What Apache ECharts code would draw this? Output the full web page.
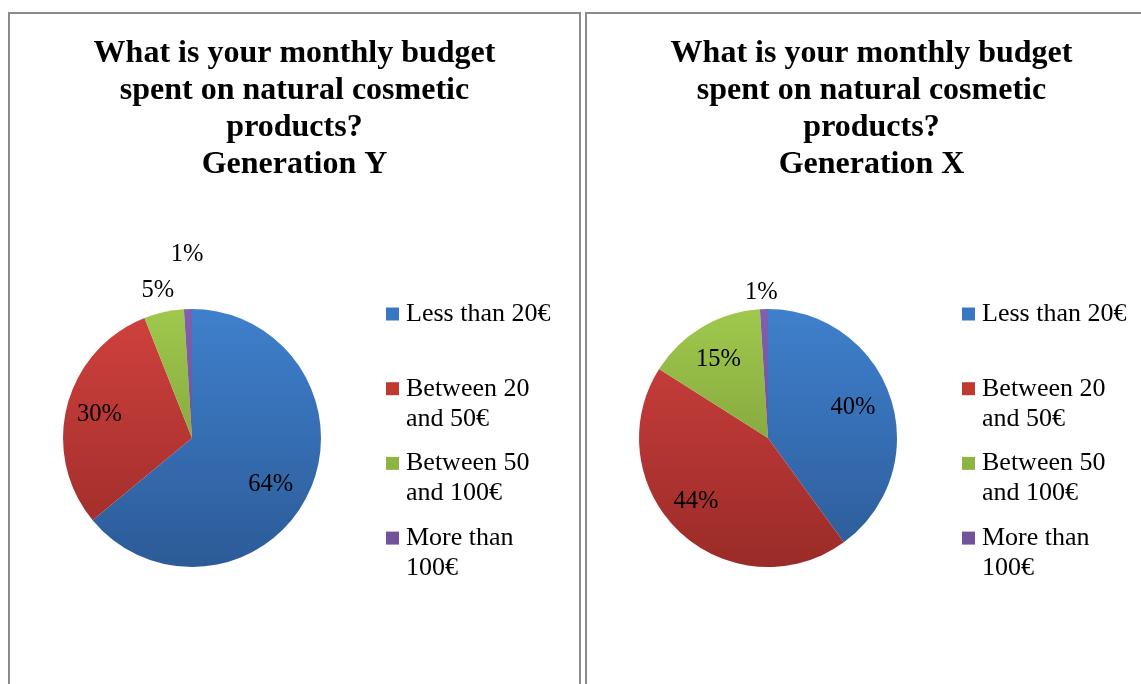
<!DOCTYPE html>
<html>
<head>
<meta charset="utf-8">
<title>Monthly budget spent on natural cosmetic products</title>
<script src="https://cdn.jsdelivr.net/npm/echarts@6/dist/echarts.min.js"></script>
<style>
  html, body { margin: 0; padding: 0; background: #fff; overflow: hidden; width: 1141px; height: 684px; }
  .panel { position: absolute; top: 12px; width: 573px; height: 700px; border: 2px solid #8c8c8c; box-sizing: border-box; background: #fff; }
  .chart { width: 569px; height: 696px; }
</style>
</head>
<body>
<div class="panel" style="left:8px"><div id="chartY" class="chart"></div></div>
<div class="panel" style="left:585px"><div id="chartX" class="chart"></div></div>
<script>
// Answer categories (series names and legend entries)
const categories = ['Less than 20€', 'Between 20 and 50€', 'Between 50 and 100€', 'More than 100€'];
// Legend wording as it wraps in the legend box
const legendLines = [['Less than 20€'], ['Between 20', 'and 50€'], ['Between 50', 'and 100€'], ['More than', '100€']];
// Share of respondents, in percent
const genY = [64, 30, 5, 1];
const genX = [40, 44, 15, 1];
const titleY = 'What is your monthly budget\nspent on natural cosmetic\nproducts?\nGeneration Y';
const titleX = 'What is your monthly budget\nspent on natural cosmetic\nproducts?\nGeneration X';

const FONT = "'Liberation Serif', 'Times New Roman', serif";
const R = 129;
// top / bottom gradient stops for each slice colour
const shades = [
  ['#3f80cd', '#2c5b97'],
  ['#d0413e', '#9a2b28'],
  ['#a0c84d', '#6f8f33'],
  ['#8160ad', '#5a4380']
];
const legendColors = ['#3a77c2', '#c0392f', '#8fb443', '#72529b'];

// legend text is padded to three lines so the marker sits beside the first line
function legendLabel(name) {
  const lines = legendLines[categories.indexOf(name)];
  return lines.length === 1 ? '\n' + lines[0] + '\n' : '\n' + lines.join('\n');
}

function buildOption(title, values, cx, cy, labelPlace) {
  const grad = i => new echarts.graphic.LinearGradient(0, cy - R, 0, cy + R, [
    { offset: 0, color: shades[i][0] },
    { offset: 1, color: shades[i][1] }
  ], true);
  return {
    animation: false,
    title: {
      text: title,
      left: 'center',
      top: 21,
      padding: 0,
      textStyle: { fontFamily: FONT, fontWeight: 'bold', fontSize: 32, lineHeight: 37, color: '#000' }
    },
    legend: {
      orient: 'vertical',
      left: labelPlace.legendLeft,
      top: 253,
      padding: 0,
      itemWidth: 13,
      itemHeight: 13,
      itemGap: -19.3,
      icon: 'rect',
      selectedMode: false,
      data: categories.map((c, i) => ({ name: c, itemStyle: { color: legendColors[i], borderWidth: 0 } })),
      formatter: legendLabel,
      textStyle: { fontFamily: FONT, fontSize: 26, lineHeight: 30, color: '#000', padding: [4, 0, 0, 2] }
    },
    series: [
      {
        name: 'slices',
        type: 'pie',
        center: [cx, cy],
        radius: [0, R],
        startAngle: 90,
        clockwise: true,
        silent: true,
        label: { show: false },
        labelLine: { show: false },
        emphasis: { disabled: true },
        itemStyle: { borderWidth: 0 },
        data: categories.map((c, i) => ({ name: c, value: values[i], itemStyle: { color: grad(i) } }))
      },
      {
        name: 'labels',
        type: 'pie',
        center: [cx, cy],
        radius: [52, R],
        startAngle: 90,
        clockwise: true,
        silent: true,
        avoidLabelOverlap: false,
        emphasis: { disabled: true },
        itemStyle: { color: 'rgba(0,0,0,0)', borderWidth: 0 },
        label: {
          show: true,
          formatter: '{c}%',
          fontFamily: FONT,
          fontSize: 24.5,
          color: '#000',
          distanceToLabelLine: 0
        },
        labelLine: { show: false },
        // centre every label on its anchor, with a small best-fit nudge
        labelLayout: p => ({
          align: 'center',
          dx: labelPlace.nudge[p.dataIndex][0],
          dy: labelPlace.nudge[p.dataIndex][1]
        }),
        data: categories.map((c, i) => ({
          name: c,
          value: values[i],
          label: { position: labelPlace.pos[i] },
          labelLine: { show: false, length: labelPlace.len[i], length2: 0 }
        }))
      }
    ]
  };
}

const chartY = echarts.init(document.getElementById('chartY'), null, { renderer: 'canvas' });
chartY.setOption(buildOption(titleY, genY, 182, 424, {
  legendLeft: 376,
  pos: ['inside', 'inside', 'outside', 'outside'],
  len: [0, 0, 23, 56],
  nudge: [[-6, 7], [-2, 0], [-1, 1], [1, 1]]
}));

const chartX = echarts.init(document.getElementById('chartX'), null, { renderer: 'canvas' });
chartX.setOption(buildOption(titleX, genX, 181, 424, {
  legendLeft: 375,
  pos: ['inside', 'inside', 'inside', 'outside'],
  len: [0, 0, 0, 18],
  nudge: [[-4, -2], [-8, -5], [-2, 2], [-2, 1]]
}));
</script>
</body>
</html>
